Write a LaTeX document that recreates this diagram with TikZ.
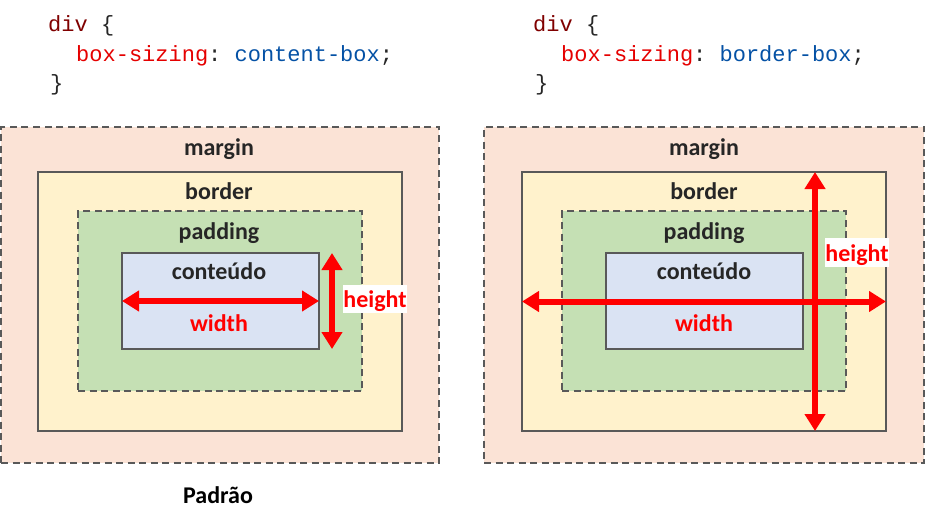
\documentclass[tikz,border=0pt]{standalone}
\usepackage{fontspec}
\setmainfont{Carlito}
\setmonofont{Liberation Mono}
\usetikzlibrary{arrows.meta,calc}
\definecolor{marginc}{HTML}{FBE3D6}
\definecolor{borderc}{HTML}{FFF2CC}
\definecolor{paddingc}{HTML}{C5E0B4}
\definecolor{contentc}{HTML}{DAE3F3}
\definecolor{strokec}{HTML}{595959}
\definecolor{txtc}{HTML}{262626}
\definecolor{divc}{HTML}{800000}
\definecolor{propc}{HTML}{E50000}
\definecolor{valc}{HTML}{0451A5}
\tikzset{
  boxrect/.style={draw=strokec, line width=1.8pt, inner sep=0pt, outer sep=0pt},
  dashrect/.style={boxrect, dash pattern=on 7pt off 4.5pt},
  lbl/.style={font=\fontsize{24}{28}\selectfont\bfseries, text=txtc, anchor=base, inner sep=0pt},
  redlbl/.style={font=\fontsize{24}{28}\selectfont\bfseries, text=red, anchor=base, inner sep=0pt},
  codeline/.style={font=\fontsize{22}{26}\selectfont\ttfamily, anchor=base west, inner sep=0pt},
  dimarrow/.style={draw=red, line width=6pt, {Triangle[width=20pt,length=17pt]}-{Triangle[width=20pt,length=17pt]}, shorten <=0pt, shorten >=0pt}
}
\begin{document}
\begin{tikzpicture}[x=1pt,y=-1pt]
\useasboundingbox (0,0) rectangle (925,524);
\fill[white] (0,0) rectangle (925,524);

% ---------- left code ----------
\node[codeline, text=divc] (lc1) at (48,32) {div \textcolor{txtc}{\{}};
\node[codeline] (lc2) at (76,62) {\textcolor{propc}{box-sizing}\textcolor{txtc}{: }\textcolor{valc}{content-box}\textcolor{txtc}{;}};
\node[codeline, text=txtc] (lc3) at (50,91) {\}};

% ---------- right code ----------
\node[codeline, text=divc] (rc1) at (533,32) {div \textcolor{txtc}{\{}};
\node[codeline] (rc2) at (561,62) {\textcolor{propc}{box-sizing}\textcolor{txtc}{: }\textcolor{valc}{border-box}\textcolor{txtc}{;}};
\node[codeline, text=txtc] (rc3) at (535,91) {\}};

% ---------- left box model ----------
\node[dashrect, fill=marginc, minimum width=438pt, minimum height=336pt] (m1) at (220,295) {};
\node[boxrect, fill=borderc, minimum width=364pt, minimum height=259pt] (b1) at (220,301.5) {};
\node[dashrect, fill=paddingc, minimum width=284pt, minimum height=180pt] (p1) at (220,301) {};
\node[boxrect, fill=contentc, minimum width=197pt, minimum height=96pt] (c1) at (220.5,301) {};
\node[lbl] (ml1) at (219,155) {margin};
\node[lbl] (bl1) at (219,199) {border};
\node[lbl] (pl1) at (219,239) {padding};
\node[lbl] (cl1) at (219,279) {conteúdo};
\node[redlbl] (wl1) at (219,331) {width};
\draw[dimarrow] (c1.west) -- (c1.east);
\coordinate (h1t) at ($(c1.north east)+(13,0)$);
\coordinate (h1b) at ($(c1.south east)+(13,0)$);
\draw[dimarrow] (h1t) -- (h1b);
\node[fill=white, minimum width=64pt, minimum height=28pt, inner sep=0pt] (hb1) at (375,299) {};
\node[redlbl] (hl1) at (375,307) {height};
\node[font=\fontsize{24}{28}\selectfont\bfseries, text=black, anchor=base, inner sep=0pt] (pad) at (218,503) {Padrão};

% ---------- right box model ----------
\node[dashrect, fill=marginc, minimum width=440pt, minimum height=336pt] (m2) at (704,295) {};
\node[boxrect, fill=borderc, minimum width=364pt, minimum height=259pt] (b2) at (704,301.5) {};
\node[dashrect, fill=paddingc, minimum width=284pt, minimum height=180pt] (p2) at (704,301) {};
\node[boxrect, fill=contentc, minimum width=197pt, minimum height=96pt] (c2) at (704.5,301) {};
\node[lbl] (ml2) at (704,155) {margin};
\node[lbl] (bl2) at (704,199) {border};
\node[lbl] (pl2) at (704,239) {padding};
\node[lbl] (cl2) at (704,279) {conteúdo};
\node[redlbl] (wl2) at (704,331) {width};
\coordinate (h2t) at ($(b2.north west)!0.805!(b2.north east)$);
\coordinate (h2b) at ($(b2.south west)!0.805!(b2.south east)$);
\draw[dimarrow] (b2.west) -- (b2.east);
\draw[dimarrow] (h2t) -- (h2b);
\node[fill=white, minimum width=64pt, minimum height=29pt, inner sep=0pt] (hb2) at (857,252.5) {};
\node[redlbl] (hl2) at (857,261) {height};
\end{tikzpicture}
\end{document}
